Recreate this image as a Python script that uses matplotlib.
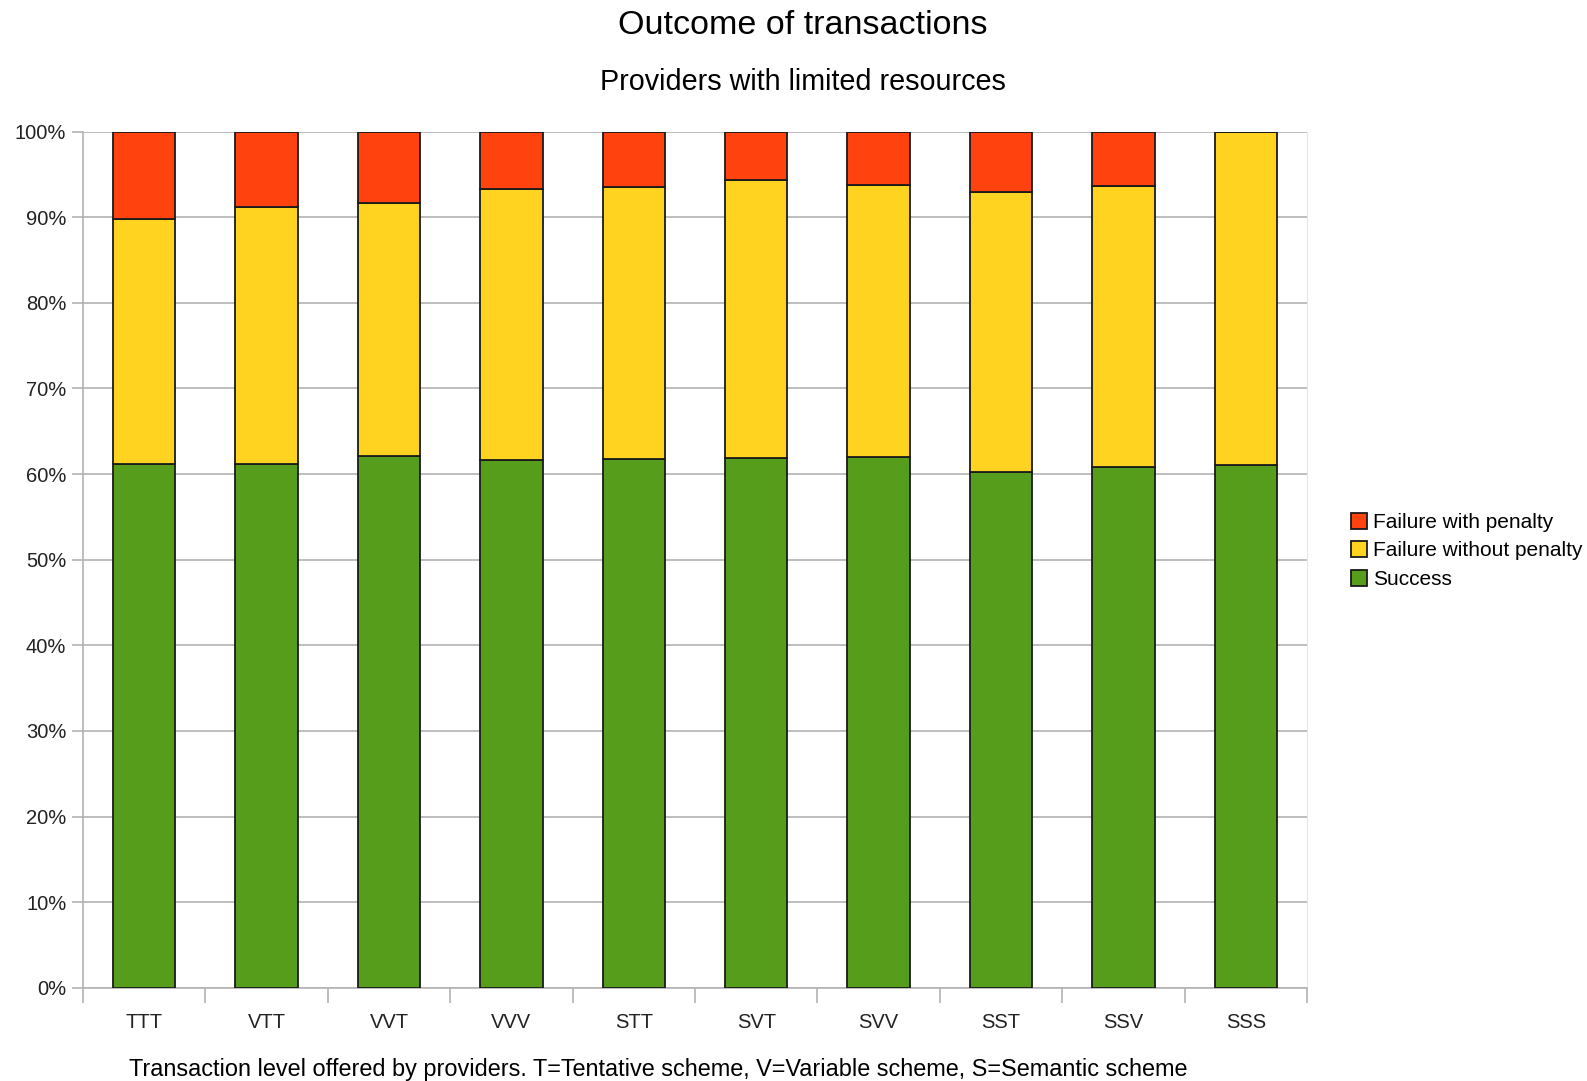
import matplotlib
matplotlib.use("Agg")
import matplotlib.pyplot as plt
from matplotlib.ticker import MultipleLocator, FixedLocator
import numpy as np

plt.rcParams['font.family'] = ['Liberation Sans', 'DejaVu Sans']

# data (percent of transactions)
categories = ["TTT", "VTT", "VVT", "VVV", "STT", "SVT", "SVV", "SST", "SSV", "SSS"]
success = [61.2, 61.2, 62.1, 61.6, 61.8, 61.9, 62.0, 60.2, 60.8, 61.0]
fail_no_penalty = [28.6, 30.0, 29.5, 31.7, 31.7, 32.5, 31.8, 32.7, 32.8, 39.0]
fail_penalty = [10.2, 8.8, 8.4, 6.7, 6.5, 5.6, 6.2, 7.1, 6.4, 0.0]

green = "#579d1c"
yellow = "#ffd320"
red = "#ff420e"

fig = plt.figure(figsize=(15.87, 10.81), dpi=100)
ax = fig.add_axes([0.0523, 0.0862, 0.7713, 0.7921])

x = np.arange(len(categories))
w = 0.51
ax.bar(x, success, w, color=green, edgecolor="#1a1a1a", linewidth=1.3, label="Success", zorder=3)
ax.bar(x, fail_no_penalty, w, bottom=success, color=yellow, edgecolor="#1a1a1a",
       linewidth=1.3, label="Failure without penalty", zorder=3)
bott = np.array(success) + np.array(fail_no_penalty)
ax.bar(x, fail_penalty, w, bottom=bott, color=red, edgecolor="#1a1a1a",
       linewidth=1.3, label="Failure with penalty", zorder=3)

ax.set_xlim(-0.5, len(categories) - 0.5)
ax.set_ylim(0, 100)
ax.yaxis.set_major_locator(MultipleLocator(10))
ax.set_yticklabels([f"{int(v)}%" for v in ax.get_yticks()])
ax.grid(axis="y", color="#b3b3b3", linewidth=1.2, zorder=0)

# category labels centred, tick marks on the boundaries
ax.set_xticks(x)
ax.set_xticklabels(categories)
ax.tick_params(axis="x", length=0, pad=18, labelsize=14.5, labelcolor="#222222")
ax.xaxis.set_minor_locator(FixedLocator(np.arange(-0.5, len(categories), 1)))
ax.tick_params(axis="x", which="minor", length=11, width=1.2, color="#b3b3b3")
ax.tick_params(axis="y", length=8, width=1.2, color="#b3b3b3", labelsize=14.5, labelcolor="#222222", pad=4)

ax.spines["top"].set_visible(False)
ax.spines["right"].set_color("#e6e6e6")
ax.spines["left"].set_color("#b3b3b3")
ax.spines["bottom"].set_color("#b3b3b3")
ax.spines["left"].set_linewidth(1.2)
ax.spines["bottom"].set_linewidth(1.2)

fig.text(0.5057, 0.976, "Outcome of transactions", ha="center", va="center", fontsize=24.5)
fig.text(0.5057, 0.924, "Providers with limited resources", ha="center", va="center", fontsize=20.7)
fig.text(0.4146, 0.011, "Transaction level offered by providers. T=Tentative scheme, V=Variable scheme, S=Semantic scheme",
         ha="center", va="center", fontsize=16.9)

handles, labels = ax.get_legend_handles_labels()
leg = fig.legend(handles[::-1], labels[::-1], loc="center left", bbox_to_anchor=(0.851, 0.4905),
                 frameon=False, fontsize=15, handlelength=0.8, handleheight=0.8,
                 handletextpad=0.3, labelspacing=0.45, borderaxespad=0, borderpad=0)

fig.savefig("out.png", dpi=100)
